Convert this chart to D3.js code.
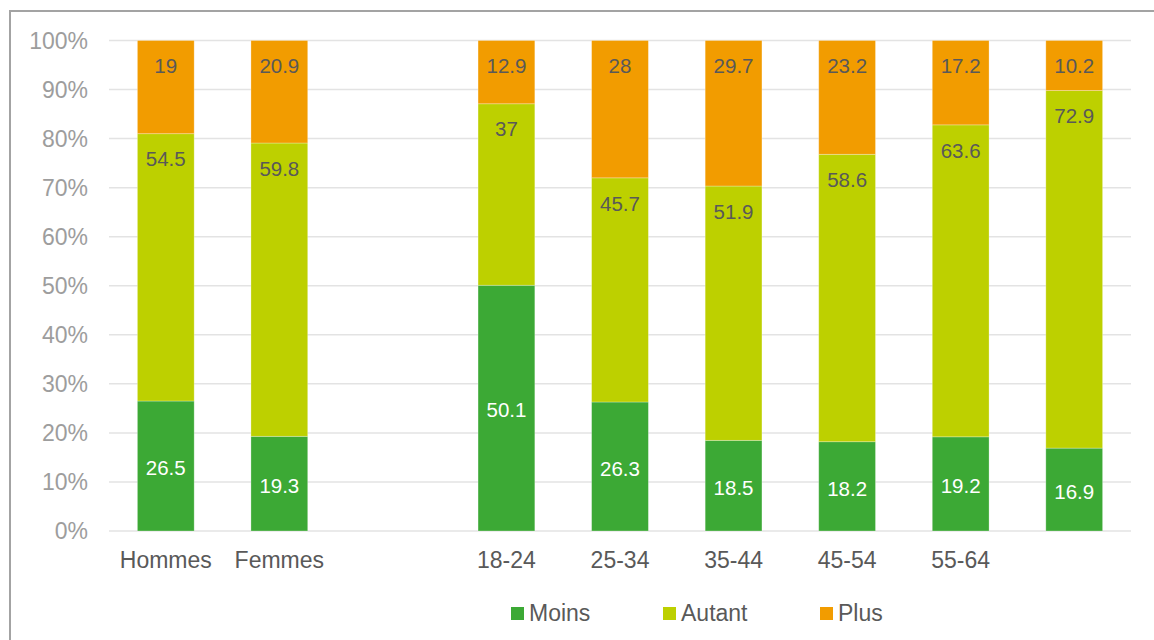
<!DOCTYPE html>
<html>
<head>
<meta charset="utf-8">
<script src="https://cdn.jsdelivr.net/npm/d3@7"></script>
<style>
  html, body { margin: 0; padding: 0; background: #fff; }
  svg { display: block; font-family: "Liberation Sans", Arial, sans-serif; }
</style>
</head>
<body>
<svg id="chart" width="1154" height="640"></svg>
<script>
// ---- data ----
const categories = ["Hommes", "Femmes", "gap", "18-24", "25-34", "35-44", "45-54", "55-64", "65+"];
const categoryLabels = ["Hommes", "Femmes", "", "18-24", "25-34", "35-44", "45-54", "55-64", ""];
const seriesNames = ["Moins", "Autant", "Plus"];
const moins  = [26.5, 19.3, null, 50.1, 26.3, 18.5, 18.2, 19.2, 16.9];
const autant = [54.5, 59.8, null, 37,   45.7, 51.9, 58.6, 63.6, 72.9];
const plus   = [19,   20.9, null, 12.9, 28,   29.7, 23.2, 17.2, 10.2];
const yTicks = [0, 0.1, 0.2, 0.3, 0.4, 0.5, 0.6, 0.7, 0.8, 0.9, 1];
const colors = ["#3ca935", "#bdd000", "#f29c00"];

const svg = d3.select("#chart");

// frame
svg.append("rect")
  .attr("x", 10).attr("y", 11).attr("width", 1200).attr("height", 700)
  .attr("fill", "none").attr("stroke", "#a3a3a3").attr("stroke-width", 2);

const x = d3.scaleBand().domain(categories).range([109, 1131])
  .paddingInner(0.5).paddingOuter(0.25);
const y = d3.scaleLinear().domain([0, 1]).range([531, 40.5]);

// gridlines
svg.append("g").selectAll("line").data(yTicks).join("line")
  .attr("x1", 109).attr("x2", 1131)
  .attr("y1", d => y(d)).attr("y2", d => y(d))
  .attr("stroke", "#e3e3e3").attr("stroke-width", 1.5);

// y axis labels
const yAxis = d3.axisLeft(y).tickValues(yTicks).tickFormat(d3.format(".0%")).tickSize(0).tickPadding(0);
const ya = svg.append("g").attr("transform", "translate(88,0)").call(yAxis);
ya.select(".domain").remove();
ya.selectAll("text").attr("font-size", 23).attr("fill", "#9d9d9d")
  .attr("font-family", "Liberation Sans, Arial, sans-serif").attr("dy", "0.34em");

// x axis labels
const xAxis = d3.axisBottom(x).tickSize(0).tickPadding(0)
  .tickFormat((d, i) => categoryLabels[i]);
const xa = svg.append("g").attr("transform", "translate(0,568)").call(xAxis);
xa.select(".domain").remove();
xa.selectAll("text").attr("font-size", 23).attr("fill", "#595959")
  .attr("font-family", "Liberation Sans, Arial, sans-serif").attr("dy", "0");

// stacked data
const rows = categories.map((c, i) => ({ cat: c, Moins: moins[i], Autant: autant[i], Plus: plus[i] }))
  .filter(r => r.Moins != null);
const stack = d3.stack().keys(seriesNames).offset(d3.stackOffsetExpand);
const stacked = stack(rows);

const layers = svg.append("g").selectAll("g").data(stacked).join("g")
  .attr("fill", (d, i) => colors[i]);
layers.selectAll("rect").data(d => d).join("rect")
  .attr("x", d => x(d.data.cat))
  .attr("width", x.bandwidth())
  .attr("y", d => y(d[1]))
  .attr("height", d => y(d[0]) - y(d[1]))
  .attr("stroke", "rgba(255,255,255,0.35)").attr("stroke-width", 0.8);

// data labels
stacked.forEach((layer, li) => {
  svg.append("g").selectAll("text").data(layer).join("text")
    .attr("x", d => x(d.data.cat) + x.bandwidth() / 2)
    .attr("y", d => li === 0 ? (y(d[0]) + y(d[1])) / 2 + 2 : y(d[1]) + 25.5)
    .attr("dy", "0.35em")
    .attr("text-anchor", "middle")
    .attr("font-size", 20.5)
    .attr("fill", li === 0 ? "#ffffff" : "#595959")
    .text(d => d.data[layer.key]);
});

// legend
const legendX = [511, 663, 820];
const lg = svg.append("g").selectAll("g").data(seriesNames).join("g")
  .attr("transform", (d, i) => `translate(${legendX[i]},607)`);
lg.append("rect").attr("width", 13).attr("height", 13).attr("fill", (d, i) => colors[i]);
lg.append("text").attr("x", 18).attr("y", 14).attr("font-size", 23).attr("fill", "#595959")
  .text(d => d);
</script>
</body>
</html>
